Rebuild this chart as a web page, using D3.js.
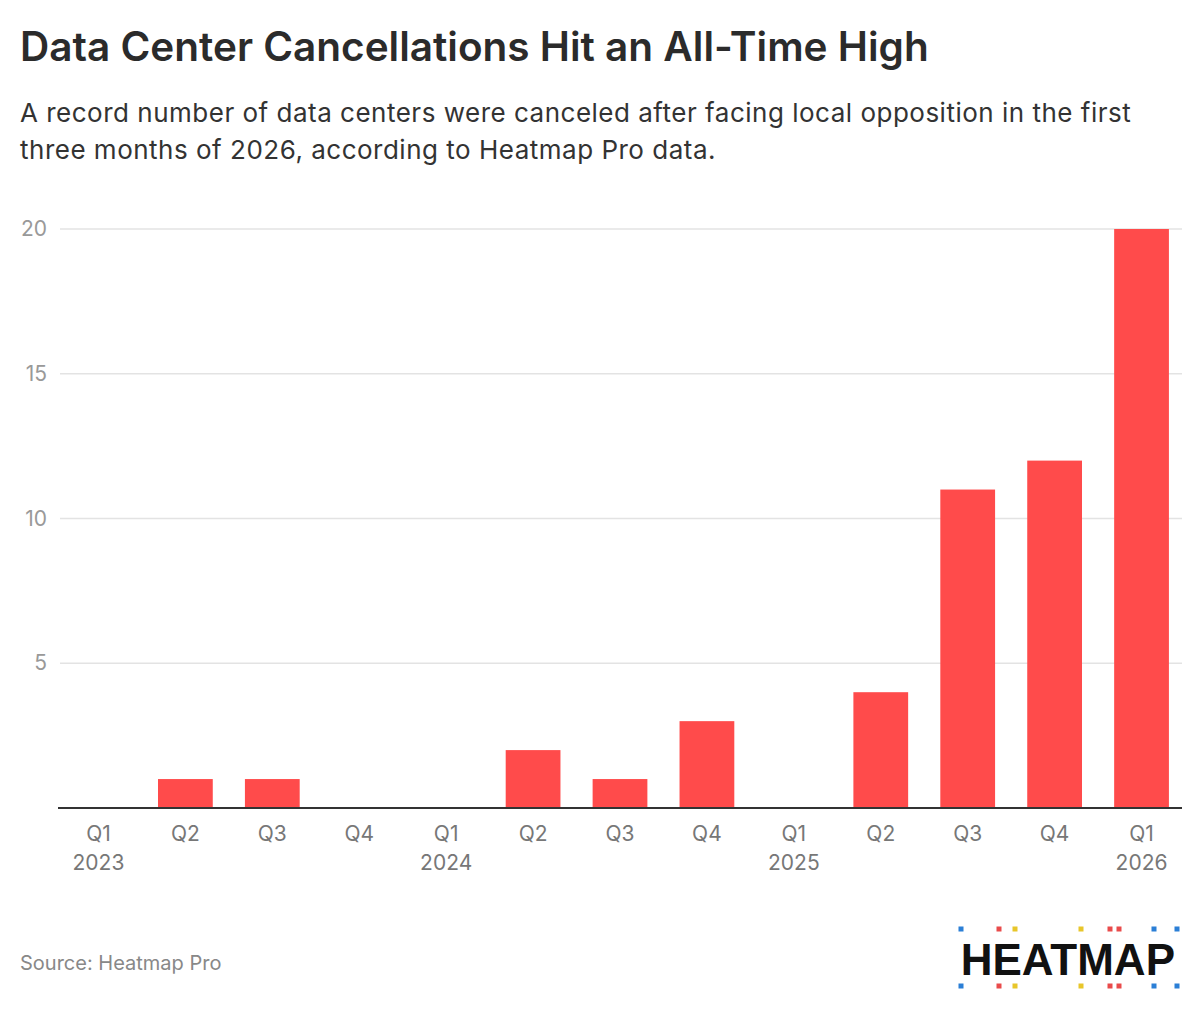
<!DOCTYPE html>
<html>
<head>
<meta charset="utf-8">
<script src="https://cdn.jsdelivr.net/npm/d3@7"></script>
<style>
  body { margin: 0; background: #fff; }
  svg { display: block; font-family: "Inter", "Open Sans", sans-serif; }
</style>
</head>
<body>
<div id="chart"></div>
<script>
// Dados do gráfico
const quarters = ["Q1", "Q2", "Q3", "Q4", "Q1", "Q2", "Q3", "Q4", "Q1", "Q2", "Q3", "Q4", "Q1"];
const years = ["2023", "", "", "", "2024", "", "", "", "2025", "", "", "", "2026"];
const cancellations = [0, 1, 1, 0, 0, 2, 1, 3, 0, 4, 11, 12, 20];
const yTicks = [5, 10, 15, 20];

const width = 1200, height = 1016;
const margin = { top: 229, right: 18, bottom: 208, left: 55 };

const svg = d3.select("#chart").append("svg")
  .attr("width", width)
  .attr("height", height);

// Títulos
svg.append("text")
  .attr("x", 20).attr("y", 61)
  .attr("font-size", 40.5).attr("font-weight", 600)
  .attr("fill", "#2b2b2b")
  .text("Data Center Cancellations Hit an All-Time High");

const sub = svg.append("text")
  .attr("x", 20).attr("y", 122)
  .attr("font-size", 26).attr("letter-spacing", 0.5)
  .attr("fill", "#333");
sub.append("tspan").attr("x", 20).text("A record number of data centers were canceled after facing local opposition in the first");
sub.append("tspan").attr("x", 20).attr("dy", 37).text("three months of 2026, according to Heatmap Pro data.");

// Escalas
const idx = d3.range(cancellations.length);
const x = d3.scaleBand()
  .domain(idx)
  .range([margin.left, width - margin.right + 3])
  .paddingInner(0.37)
  .paddingOuter(0.185);

const y = d3.scaleLinear()
  .domain([0, 20])
  .range([height - margin.bottom, margin.top]);

// Grade
svg.append("g")
  .selectAll("line")
  .data(yTicks)
  .join("line")
  .attr("x1", 60).attr("x2", width - 18)
  .attr("y1", d => y(d)).attr("y2", d => y(d))
  .attr("stroke", "#e3e3e3").attr("stroke-width", 1.5);

// Eixo y
const yAxis = svg.append("g")
  .attr("transform", `translate(47,0)`)
  .call(d3.axisLeft(y).tickValues(yTicks).tickSize(0).tickPadding(0));
yAxis.select(".domain").remove();
yAxis.selectAll("text")
  .attr("font-size", 21).attr("fill", "#999")
  .attr("font-family", "Inter, sans-serif");

// Barras
svg.append("g")
  .selectAll("rect")
  .data(cancellations)
  .join("rect")
  .attr("x", (d, i) => x(i))
  .attr("width", x.bandwidth())
  .attr("y", d => y(d))
  .attr("height", d => y(0) - y(d))
  .attr("fill", "#ff4b4b");

// Eixo x
const xAxis = svg.append("g")
  .attr("transform", `translate(0,${y(0)})`)
  .call(d3.axisBottom(x).tickSize(0).tickPadding(0).tickFormat(() => ""));
xAxis.select(".domain")
  .attr("d", `M58,0H${width - 18}`)
  .attr("stroke", "#333").attr("stroke-width", 2);
xAxis.selectAll(".tick text").remove();
xAxis.selectAll(".tick").each(function(d) {
  const t = d3.select(this).append("text")
    .attr("text-anchor", "middle")
    .attr("font-size", 21).attr("fill", "#777")
    .attr("font-family", "Inter, sans-serif");
  t.append("tspan").attr("x", 0).attr("y", 33).text(quarters[d]);
  if (years[d]) t.append("tspan").attr("x", 0).attr("y", 62).text(years[d]);
});

// Fonte
svg.append("text")
  .attr("x", 20).attr("y", 970)
  .attr("font-size", 20).attr("fill", "#888")
  .text("Source: Heatmap Pro");

// Logo
const logo = svg.append("g");
logo.append("text")
  .attr("x", 1175).attr("y", 975)
  .attr("text-anchor", "end")
  .attr("font-size", 44).attr("font-weight", 700)
  .attr("font-family", "Liberation Sans, Arial, sans-serif")
  .attr("fill", "#111")
  .text("HEATMAP");
const dots = [
  [961, "#2b7fd6"], [999, "#e94b4b"], [1015, "#e8c62a"], [1081, "#e8c62a"],
  [1110, "#e94b4b"], [1119, "#e94b4b"], [1154, "#2b7fd6"], [1177, "#2b7fd6"]
];
[929, 986].forEach(cy => {
  logo.append("g").selectAll("rect")
    .data(dots)
    .join("rect")
    .attr("x", d => d[0] - 2.5).attr("y", cy - 2.5)
    .attr("width", 5).attr("height", 5)
    .attr("fill", d => d[1]);
});
</script>
</body>
</html>
